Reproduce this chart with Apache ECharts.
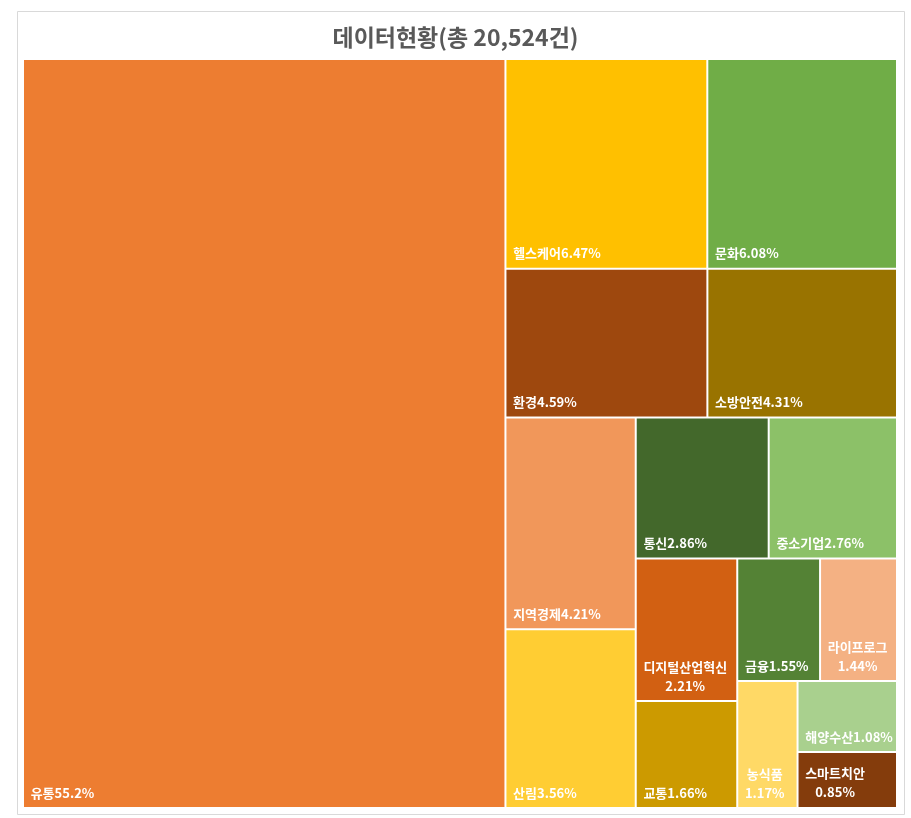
<!DOCTYPE html>
<html><head><meta charset="utf-8">
<script src="https://cdn.jsdelivr.net/npm/echarts@6/dist/echarts.min.js"></script>
<style>html,body{margin:0;padding:0;background:#fff}#c{width:911px;height:818px}</style>
</head><body><div id="c"></div>
<script>
const titleText = '데이터현황(총 20,524건)';
const categories = ['유통','헬스케어','문화','환경','소방안전','지역경제','산림','통신','중소기업','디지털산업혁신','교통','금융','라이프로그','농식품','해양수산','스마트치안'];
const percents = [55.2,6.47,6.08,4.59,4.31,4.21,3.56,2.86,2.76,2.21,1.66,1.55,1.44,1.17,1.08,0.85];
const palette = ['#ED7D31','#FFC000','#70AD47','#9E480E','#997300','#F1975A','#FFCD33','#43682B','#8CC168','#D26012','#CC9A00','#548235','#F4B183','#FFD966','#A9D08E','#843C0C'];

const FONT_FAMILY = 'Noto Sans CJK KR';
const FONT_SIZE = 13;
const LINE_H = 19;
const PAD_L = 6, PAD_B = 3, WRAP_MARGIN = 3;

const ctx = document.createElement('canvas').getContext('2d');
ctx.font = 'bold ' + FONT_SIZE + 'px "' + FONT_FAMILY + '"';
const mw = s => ctx.measureText(s).width;

function wrap(text, avail) {
  const units = text.match(/[0-9.,%]+|./g);
  const lines = [];
  let cur = '';
  units.forEach(u => {
    if (cur && mw(cur + u) > avail) { lines.push(cur); cur = u; }
    else cur += u;
  });
  if (cur) lines.push(cur);
  return lines;
}

const labelInfo = {};

function buildData() {
  return categories.map((n, i) => {
    const item = { name: n, value: percents[i], itemStyle: { color: palette[i] } };
    const info = labelInfo[n];
    if (info) item.label = { padding: info.padding };
    return item;
  });
}

const chart = echarts.init(document.getElementById('c'), null, { renderer: 'canvas' });

function makeOption() {
  return {
    animation: false,
    backgroundColor: '#fff',
    title: {
      text: titleText, left: 'center', top: 21,
      textStyle: { fontFamily: FONT_FAMILY, fontSize: 23, fontWeight: 'bold', color: '#595959' }
    },
    graphic: [{
      type: 'rect', shape: { x: 17.5, y: 11.5, width: 887, height: 803 },
      style: { fill: 'none', stroke: '#D9D9D9', lineWidth: 1 }, silent: true, z: -1
    }],
    series: [{
      type: 'treemap',
      left: 24, top: 60, width: 872, height: 747,
      squareRatio: 0.87,
      roam: false, nodeClick: false,
      breadcrumb: { show: false },
      sort: 'desc',
      visibleMin: 0,
      levels: [{ itemStyle: { borderWidth: 0, gapWidth: 2, borderColor: '#fff' } }],
      itemStyle: { borderWidth: 0, gapWidth: 0 },
      label: {
        show: true,
        position: 'insideTopLeft',
        distance: 0,
        padding: 0,
        overflow: 'none',
        fontFamily: FONT_FAMILY,
        fontSize: FONT_SIZE,
        fontWeight: 'bold',
        color: '#fff',
        lineHeight: LINE_H,
        formatter: p => {
          const info = labelInfo[p.name];
          const lines = info ? info.lines : [p.name + p.value + '%'];
          return lines.map(l => '{c|' + l + '}').join('\n');
        },
        rich: { c: { align: 'center', fontFamily: FONT_FAMILY, fontSize: FONT_SIZE, fontWeight: 'bold', color: '#fff', lineHeight: LINE_H } }
      },
      data: buildData()
    }]
  };
}

chart.setOption(makeOption());

// Read the cell sizes computed by the treemap layout and place labels at bottom-left.
try {
  const d = chart.getModel().getSeriesByIndex(0).getData();
  for (let i = 0; i < d.count(); i++) {
    const name = d.getName(i);
    const idx = categories.indexOf(name);
    if (idx < 0) continue;
    const lay = d.getItemLayout(i);
    if (!lay) continue;
    const text = name + percents[idx] + '%';
    const lines = wrap(text, lay.width - WRAP_MARGIN);
    const blockW = Math.ceil(Math.max.apply(null, lines.map(mw))) + 1;
    const blockH = lines.length * LINE_H;
    const padT = Math.max(0, Math.floor(lay.height - blockH - PAD_B - 1));
    const padR = Math.max(0, lay.width - PAD_L - blockW);
    labelInfo[name] = { lines, padding: [padT, padR, PAD_B, PAD_L] };
  }
  chart.setOption(makeOption(), true);
} catch (e) { console.error(e); }
</script></body></html>
